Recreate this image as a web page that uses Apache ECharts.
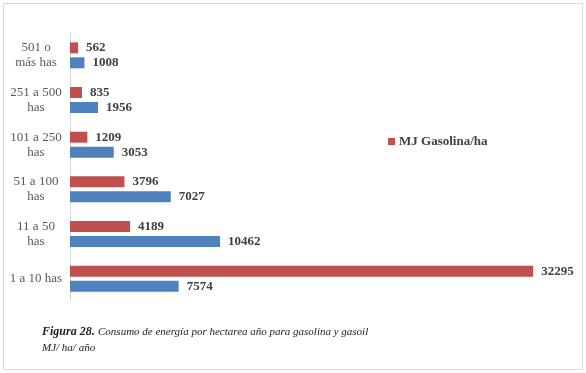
<!DOCTYPE html>
<html>
<head>
<meta charset="utf-8">
<script src="https://cdn.jsdelivr.net/npm/echarts@6/dist/echarts.min.js"></script>
<style>
html,body{margin:0;padding:0;background:#fff;}
#chart{width:586px;height:373px;}
</style>
</head>
<body>
<div id="chart"></div>
<script>
// Categories from bottom to top
var categories = ['1 a 10 has', '11 a 50 has', '51 a 100 has', '101 a 250 has', '251 a 500 has', '501 o más has'];
var categoryLabels = ['1 a 10 has', '11 a 50\nhas', '51 a 100\nhas', '101 a 250\nhas', '251 a 500\nhas', '501 o\nmás has'];
var gasolina = [32295, 4189, 3796, 1209, 835, 562];
var gasoil = [7574, 10462, 7027, 3053, 1956, 1008];
var legendNames = ['MJ Gasolina/ha'];

var chart = echarts.init(document.getElementById('chart'));
var serif = '"Liberation Serif", "Times New Roman", serif';
var valueLabel = {
  show: true, position: 'right', distance: 8,
  fontFamily: serif, fontWeight: 'bold', fontSize: 13, color: '#404040'
};
chart.setOption({
  animation: false,
  backgroundColor: '#ffffff',
  graphic: [{
    type: 'rect', shape: {x: 3.5, y: 3.5, width: 579, height: 366},
    style: {fill: 'none', stroke: '#d9d9d9', lineWidth: 1}, silent: true
  }, {
    type: 'text', left: 42, top: 326,
    style: {
      text: '{b|Figura 28.} {i|Consumo de energía por hectarea año para gasolina y gasoil}\n{i|MJ/ ha/ año}',
      rich: {
        b: {fontFamily: serif, fontStyle: 'italic', fontWeight: 'bold', fontSize: 12, fill: '#222', lineHeight: 16},
        i: {fontFamily: serif, fontStyle: 'italic', fontSize: 11, fill: '#222', lineHeight: 16}
      }
    }
  }],
  legend: {
    data: legendNames,
    left: 388, top: 135, padding: 0,
    itemWidth: 7, itemHeight: 7, itemGap: 10,
    icon: 'rect',
    textStyle: {fontFamily: serif, fontWeight: 'bold', fontSize: 13, color: '#404040', padding: [0, 0, 0, -1]}
  },
  grid: {left: 70, right: 14, top: 33, bottom: 72, containLabel: false},
  xAxis: {
    type: 'value', min: 0, max: 35000, show: false
  },
  yAxis: {
    type: 'category', data: categories,
    axisLine: {show: true, lineStyle: {color: '#d9d9d9', width: 1}},
    axisTick: {show: false},
    axisLabel: {
      formatter: function (v, i) { return categoryLabels[i]; },
      align: 'center', margin: 34,
      fontFamily: serif, fontSize: 13, color: '#595959', lineHeight: 15
    }
  },
  series: [{
    name: 'MJ Gasolina/ha', type: 'bar', data: gasolina,
    barWidth: 11, barGap: '36%',
    itemStyle: {color: '#C0504D'},
    label: valueLabel
  }, {
    name: 'MJ Gasoil/ha', type: 'bar', data: gasoil,
    barWidth: 11, barGap: '36%',
    itemStyle: {color: '#4F81BD'},
    label: valueLabel
  }]
});
</script>
</body>
</html>
